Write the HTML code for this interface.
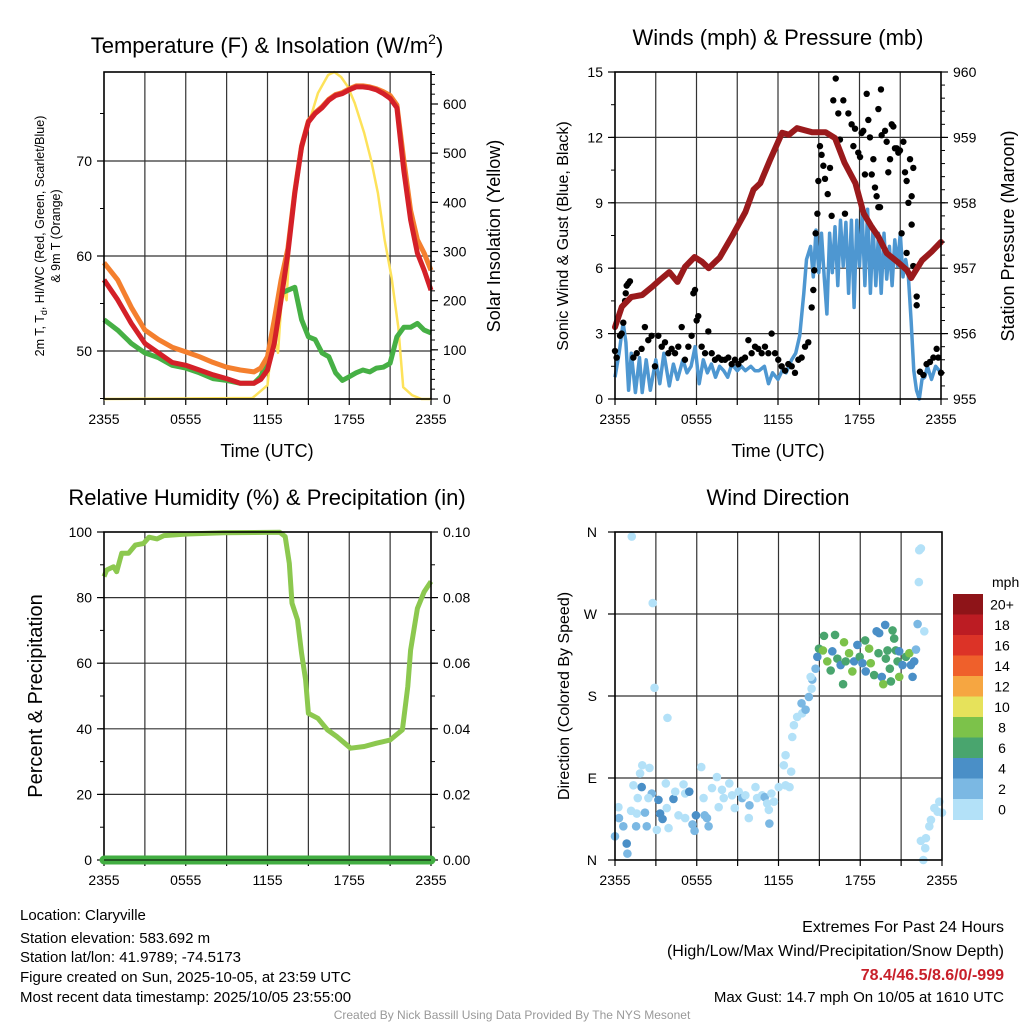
<!DOCTYPE html>
<html><head><meta charset="utf-8"><style>
html,body{margin:0;padding:0;background:#fff;}
svg{display:block;font-family:"Liberation Sans",Arial,sans-serif;}
</style></head><body>
<svg id="chart" width="1024" height="1024" viewBox="0 0 1024 1024" xmlns="http://www.w3.org/2000/svg">
<rect width="1024" height="1024" fill="#fff"/>
<g id="g1"></g>
<g id="g2"></g>
<g id="g3"></g>
<g id="g4"></g>

<text x="267" y="53" font-size="22" text-anchor="middle">Temperature (F) &amp; Insolation (W/m<tspan font-size="14" dy="-9">2</tspan><tspan dy="9">)</tspan></text>
<text x="778" y="45" font-size="22" text-anchor="middle">Winds (mph) &amp; Pressure (mb)</text>
<text x="267" y="505" font-size="22" text-anchor="middle">Relative Humidity (%) &amp; Precipitation (in)</text>
<text x="778" y="505" font-size="22" text-anchor="middle">Wind Direction</text>

<text x="267" y="457" font-size="18" text-anchor="middle">Time (UTC)</text>
<text x="778" y="457" font-size="18" text-anchor="middle">Time (UTC)</text>

<text transform="translate(44,236) rotate(-90)" font-size="12.5" text-anchor="middle">2m T, T<tspan font-size="9" dy="3">d</tspan><tspan dy="-3">, HI/WC (Red, Green, Scarlet/Blue)</tspan></text>
<text transform="translate(60,236) rotate(-90)" font-size="12.5" text-anchor="middle">&amp; 9m T (Orange)</text>
<text transform="translate(500,236) rotate(-90)" font-size="18" text-anchor="middle">Solar Insolation (Yellow)</text>
<text transform="translate(568,236) rotate(-90)" font-size="16" text-anchor="middle">Sonic Wind &amp; Gust (Blue, Black)</text>
<text transform="translate(1014,236) rotate(-90)" font-size="18" text-anchor="middle">Station Pressure (Maroon)</text>
<text transform="translate(42,696) rotate(-90)" font-size="20" text-anchor="middle">Percent &amp; Precipitation</text>
<text transform="translate(569,696) rotate(-90)" font-size="16" text-anchor="middle">Direction (Colored By Speed)</text>

<g font-size="15">
<text x="20" y="920">Location: Claryville</text>
<text x="20" y="943">Station elevation: 583.692 m</text>
<text x="20" y="962">Station lat/lon: 41.9789; -74.5173</text>
<text x="20" y="982">Figure created on Sun, 2025-10-05, at 23:59 UTC</text>
<text x="20" y="1002">Most recent data timestamp: 2025/10/05 23:55:00</text>
</g>
<g font-size="16" text-anchor="end">
<text x="1004" y="932">Extremes For Past 24 Hours</text>
<text x="1004" y="956">(High/Low/Max Wind/Precipitation/Snow Depth)</text>
<text x="1004" y="980" fill="#c8202a" font-weight="bold">78.4/46.5/8.6/0/-999</text>
<text x="1004" y="1002" font-size="15">Max Gust: 14.7 mph On 10/05 at 1610 UTC</text>
</g>
<text x="512" y="1019" font-size="12" fill="#999" text-anchor="middle">Created By Nick Bassill Using Data Provided By The NYS Mesonet</text>
</svg>
<script>
// ---------- data ----------
const timeTickLabels = ["2355","0555","1155","1755","2355"];
const tempTimes = [0,1,2,3,4,5,6,7,8,9,10,11,11.5,12,12.5,13,13.5,14,14.5,15,15.5,16,16.5,17,17.5,18,18.5,19,19.5,20,20.5,21,21.5,22,22.5,23,23.5,24];
const temp2m = [57.5,55.4,52.9,50.8,49.8,48.8,48.5,48,47.5,47.1,46.6,46.6,47,48,50.8,55.4,60.3,66.6,71.5,74.1,75,75.6,76.4,76.9,77.1,77.5,77.8,77.8,77.7,77.5,77.1,76.6,75.6,69,63.8,60.3,58.5,56.4];
const temp9m = [59.3,57.5,54.6,52.2,51.2,50.4,49.9,49.4,48.8,48.3,48,47.8,48.2,49.4,53.3,57.5,60.8,66.8,71.6,74.2,75.1,75.7,76.5,77,77.2,77.6,77.9,77.9,77.8,77.6,77.3,76.9,75.9,70.1,64.8,61.7,60.3,58.5];
const dewpoint = [53.3,52.2,50.8,49.8,49.3,48.5,48.2,47.7,47.1,46.9,46.6,46.6,47.3,49,52.5,56.1,56.4,56.7,53.3,51.5,51.2,49.8,49.4,47.7,46.9,47.3,47.7,48,47.8,48.2,48.3,48.7,51.5,52.5,52.5,52.9,52.2,51.9];
const tempTicks = [50,60,70];
const solarTimes = [0,10.9,12.0,12.4,12.77,13.1,13.4,13.75,14.5,15.1,15.7,16.45,16.9,17.4,17.9,18.4,19.1,19.6,20.1,20.6,21.1,21.6,21.96,22.6,23.3,24];
const solarValues = [0,2,28,134,94,228,201,384,500,567,622,659,665,655,635,602,541,486,419,323,248,146,24,8,0,0];
const solarTicks = [0,100,200,300,400,500,600];

const windTimes = [0,0.3,0.6,0.8,1,1.2,1.5,1.8,2,2.3,2.6,3,3.3,3.6,4,4.3,4.6,5,5.3,5.6,5.9,6.2,6.5,6.8,7.1,7.4,7.7,8,8.3,8.6,9,9.3,9.6,10,10.3,10.6,11,11.3,11.6,12,12.3,12.6,13,13.3,13.6,13.9,14.1,14.4,14.6,14.8,15,15.2,15.4,15.6,15.8,16,16.2,16.4,16.6,16.8,17,17.2,17.4,17.6,17.8,18,18.2,18.4,18.6,18.8,19,19.2,19.4,19.6,19.8,20,20.2,20.4,20.6,20.8,21,21.2,21.4,21.6,21.8,22,22.2,22.4,22.6,22.8,23,23.3,23.6,24];
const windSpeed = [1.0,2.1,3.5,2.6,0.4,2.1,0.3,1.9,0.3,1.8,0.4,1.8,0.7,2.1,0.6,1.6,0.9,1.8,1.2,1.5,2.4,0.7,1.8,1.2,1.6,1.0,1.5,1.3,1.0,1.6,1.3,1.5,1.3,1.5,1.3,1.3,1.5,0.7,1.2,0.9,1.3,1.2,1.8,2.1,2.9,4.85,6.4,7.0,5.6,7.75,5.8,7.6,5.6,3.9,7.6,5.8,7.9,5.2,8.2,6.1,8.1,4.85,8.2,4.2,8.2,6.1,8.5,5.2,8.7,4.85,7.9,5.2,7.6,4.85,7.6,5.5,7.0,5.2,7.3,6.1,7.6,5.6,6.4,5.6,3.6,1.3,0.4,0,0.9,1.0,1.5,0.9,1.5,1.2];
const gustTimes = [0,.12,.37,.49,.61,.74,.79,.86,.98,1.1,1.35,1.6,1.96,2.2,2.45,2.7,2.94,3.19,3.44,3.68,3.93,4.17,4.42,4.66,4.91,5.15,5.4,5.64,5.77,5.89,6.01,6.13,6.38,6.63,6.87,7.12,7.36,7.61,7.85,8.1,8.34,8.59,8.83,9.08,9.33,9.57,9.82,10.06,10.31,10.55,10.8,11.04,11.29,11.53,11.78,12.02,12.27,12.52,12.76,13.01,13.25,13.5,13.74,13.99,14.23,14.48,14.6,14.67,14.77,14.9,14.97,15.09,15.21,15.34,15.46,15.66,15.83,15.95,16.07,16.25,16.44,16.56,16.81,16.93,17.18,17.42,17.55,17.67,17.91,18.04,18.16,18.28,18.4,18.53,18.65,18.77,18.9,19.02,19.14,19.26,19.39,19.51,19.39,19.58,19.63,19.88,20,20.12,20.25,20.37,20.49,20.61,20.74,20.86,20.98,21.1,21.23,21.35,21.47,21.6,21.72,21.84,21.96,21.84,21.47,21.96,22.21,22.21,22.45,22.7,22.94,23.19,23.44,23.68,23.8,24];
const gustSpeed = [2.2,1.9,2.9,3.0,3.5,4.5,4.85,5.2,5.3,5.4,1.9,2.1,2.3,3.3,2.7,2.9,1.5,2.9,2.4,2.6,2.1,2.3,2.1,2.4,3.3,1.8,2.4,2.9,4.85,5.0,3.6,3.8,2.4,2.1,3.1,2.1,1.8,1.9,1.8,1.8,1.9,1.6,1.8,1.6,1.8,1.9,2.7,2.1,2.4,2.3,2.1,2.4,2.1,3.0,2.1,1.8,1.5,1.3,1.6,1.5,1.2,1.8,1.9,2.4,2.6,4.2,5.0,5.9,7.6,8.5,10.0,11.6,11.2,10.7,10.1,9.4,10.6,8.4,13.7,14.7,13.1,11.9,13.7,8.5,13.1,12.6,11.6,12.4,11.3,11.1,12.2,12.3,10.3,14.0,12.8,12.0,10.3,11.0,9.7,9.3,8.8,8.8,13.3,14.2,12.1,12.3,11.8,10.4,11.0,12.6,12.5,11.5,11.5,11.3,11.4,7.6,11.8,10.4,10.0,9.0,11.0,9.3,10.6,8.0,6.7,6.1,4.7,4.3,1.25,1.1,1.6,1.7,1.9,2.3,1.9,1.2];
const presTimes = [0,0.5,1.2,2,2.7,3.3,4,4.6,5.15,5.85,6.4,6.9,7.7,8.6,9.6,10.2,10.7,11.4,12.3,12.8,13.4,14.5,15.5,16.2,16.9,17.7,18.3,18.9,19.4,20,20.9,21.5,21.8,22.6,23.3,24];
const presValues = [956.10,956.41,956.56,956.59,956.71,956.82,956.94,956.79,957.02,957.17,957.10,957.00,957.16,957.48,957.86,958.20,958.30,958.65,959.07,959.04,959.14,959.08,959.08,958.99,958.61,958.30,957.84,957.63,957.48,957.23,957.08,956.97,956.85,957.12,957.25,957.40];
const windTicks = [0,3,6,9,12,15];
const presTicks = [955,956,957,958,959,960];

const rhTimes = [0,0.2,0.7,0.93,1.3,1.8,2.3,2.9,3.3,3.9,4.4,6.1,8.8,12.9,13.3,13.6,13.8,14.2,14.5,14.8,15,15.7,16.4,17.1,18.1,19.1,20,21,21.9,22.3,22.5,23,23.5,24];
const rhValues = [86.4,88.4,89.4,87.9,93.5,93.5,96,96.5,98.4,97.9,98.9,99.4,99.8,99.9,98.6,90.5,78.3,73.2,63,54.9,44.7,43.2,39.7,37.6,34.1,34.6,35.6,36.6,39.7,52.9,64,76.7,81.8,84.9];
const precipTimes = [0,24];
const precipValues = [0,0];
const rhTicks = [0,20,40,60,80,100];
const precipTicks = ["0.00","0.02","0.04","0.06","0.08","0.10"];

const dirTimes = [1.23,2.77,2.9,3.85,0.25,0.29,0,0.61,0.86,0.91,1.35,1.96,1.84,2.0,2.53,1.67,1.18,1.6,2.2,1.55,2.33,2.7,2.45,3.19,3.31,3.49,3.07,3.73,3.8,4.29,4.42,3.93,4.66,5.03,5.15,5.45,5.15,5.69,5.84,5.94,6.33,6.5,6.58,6.75,6.87,7.12,7.48,7.61,7.85,7.98,8.39,8.59,8.79,9.08,9.33,9.57,9.87,9.82,10.31,10.43,10.8,10.99,11.17,11.29,11.33,11.48,11.66,12.02,12.52,12.81,12.39,12.52,12.93,13.01,13.13,13.37,13.74,13.99,13.69,14.23,14.43,14.48,14.36,14.72,14.85,14.97,15.26,15.34,15.58,15.83,15.95,16.15,16.32,16.56,16.74,16.81,16.93,17.18,17.42,17.55,17.79,17.96,18.16,18.36,18.4,18.65,18.77,19.02,19.2,19.39,19.34,19.58,19.69,19.83,19.88,20,20.17,20.25,20.37,20.49,20.61,20.74,20.86,20.86,21.1,21.35,21.6,21.72,21.84,21.96,22.09,22.21,22.7,22.3,22.45,22.33,22.45,22.82,22.77,22.63,23.07,23.19,23.44,23.68,23.8,24];
const dirDegrees = [355,282,189,156,58,46,26,37,18,7,82,80,95,104,101,68,54,51,52,37,37,73,68,66,51,45,33,84,57,67,75,35,49,83,73,75,46,39,32,49,102,68,49,46,37,79,91,58,77,68,84,71,57,75,68,71,60,46,80,68,71,69,62,55,40,73,64,80,82,80,104,115,97,135,148,157,161,165,172,179,188,198,201,210,223,232,230,246,218,208,229,247,221,214,193,239,218,227,207,218,236,223,216,241,207,232,216,203,251,249,227,201,193,258,221,230,210,196,252,243,230,218,229,201,214,223,227,214,201,218,231,259,251,305,342,340,21,24,13,0,37,44,57,53,64,52];
const dirSpeeds = [1,1,1,1,1,3,3,3,5,3,1,5,1,1,1,1,1,1,3,3,3,3,1,5,5,5,1,1,1,5,1,1,1,1,1,5,1,3,3,5,1,1,3,3,3,1,1,1,1,1,1,1,1,1,3,1,3,1,1,1,1,3,1,1,3,1,1,1,1,1,1,1,1,1,1,1,1,3,3,3,1,3,1,3,5,7,9,7,9,7,5,7,7,5,7,9,7,9,9,5,5,7,5,7,5,9,9,7,5,5,7,5,9,5,7,7,7,7,7,7,7,7,5,9,5,7,9,5,5,5,3,3,1,1,1,1,1,1,1,1,1,1,1,1,1,1];
const dirTickLabels = ["N","E","S","W","N"];
const speedBinLabels = ["20+","18","16","14","12","10","8","6","4","2","0"];
const speedBinColors = ["#8e1418","#bc1c23","#dc3327","#ef602b","#f6a641","#e6e25b","#7cc24a","#49a56e","#4a8fc7","#7bb8e3","#b3e1f8"];

// ---------- helpers ----------
const NS = "http://www.w3.org/2000/svg";
function mk(tag, attrs, parent){const e=document.createElementNS(NS,tag);for(const k in attrs)e.setAttribute(k,attrs[k]);parent.appendChild(e);return e;}
function makePanel(x0,x1,y0,y1){return {x0,x1,y0,y1,xs:t=>x0+(t/24)*(x1-x0)};}
function lin(d0,d1,p0,p1){return v=>p0+(v-d0)*(p1-p0)/(d1-d0);}
function linePath(xs,ys,times,vals){return times.map((t,i)=>(i?"L":"M")+xs(t).toFixed(1)+","+ys(vals[i]).toFixed(1)).join("");}

function frame(g,p,opts){
  // grid verticals every 3h
  for(let h=3;h<24;h+=3){
    const l=mk("line",{x1:p.xs(h),x2:p.xs(h),y1:p.y0,y2:p.y1,stroke:"#333","stroke-width":1.2},g);
    
    
  }
  opts.hgrid.forEach(y=>{
    const l=mk("line",{x1:p.x0,x2:p.x1,y1:y,y2:y,stroke:"#333","stroke-width":1.2},g);
    
    
  });
  // x ticks and labels
  for(let h=0;h<=24;h+=3){
    const l=mk("line",{x1:p.xs(h),x2:p.xs(h),y1:p.y1,y2:p.y1+6,stroke:"#000","stroke-width":1.2},g);
    
    
  }
  timeTickLabels.forEach((s,i)=>{
    const t=mk("text",{x:p.xs(i*6),y:p.y1+25,"font-size":14,"text-anchor":"middle"},g);
    t.textContent=s;
    
    
  });
}
function border(g,p){
  const r=mk("rect",{x:p.x0,y:p.y0,width:p.x1-p.x0,height:p.y1-p.y0,fill:"none",stroke:"#000","stroke-width":1.6},g);
  
  
}
function yTicks(g,p,side,scale,ticks,labels,minorStep,lo,hi,nameLbl){
  const x=side==="l"?p.x0:p.x1, dir=side==="l"?-1:1;
  for(let v=lo;v<=hi+1e-9;v+=minorStep){
    const y=scale(v); if(y<p.y0-0.5||y>p.y1+0.5) continue;
    const l=mk("line",{x1:x,x2:x+dir*4,y1:y,y2:y,stroke:"#000","stroke-width":1},g);
    
    
  }
  ticks.forEach((v,i)=>{
    const y=scale(v);
    const l=mk("line",{x1:x,x2:x+dir*7,y1:y,y2:y,stroke:"#000","stroke-width":1.2},g);
    
    
    const t=mk("text",{x:x+dir*12,y:y+5,"font-size":14,"text-anchor":side==="l"?"end":"start"},g);
    t.textContent=labels[i];
    
    
  });
}

// ---------- panel 1 ----------
(function(){
  const g=document.getElementById("g1");
  const p=makePanel(104,431,72,399);
  const yT=lin(50,70,351,161), yS=lin(0,600,399,104);
  frame(g,p,{hgrid:tempTicks.map(yT)});
  let e;
  e=mk("path",{d:linePath(p.xs,yS,solarTimes,solarValues),fill:"none",stroke:"#fde25a","stroke-width":2.5,"stroke-linejoin":"round"},g);
  
  
  e=mk("path",{d:linePath(p.xs,yT,tempTimes,dewpoint),fill:"none",stroke:"#46b045","stroke-width":5,"stroke-linejoin":"round"},g);
  
  
  e=mk("path",{d:linePath(p.xs,yT,tempTimes,temp9m),fill:"none",stroke:"#f47f2e","stroke-width":5,"stroke-linejoin":"round"},g);
  
  
  e=mk("path",{d:linePath(p.xs,yT,tempTimes,temp2m),fill:"none",stroke:"#d42028","stroke-width":5,"stroke-linejoin":"round"},g);
  
  
  border(g,p);
  yTicks(g,p,"l",yT,tempTicks,tempTicks.map(String),5,45,75,"temperature-tick-label");
  yTicks(g,p,"r",yS,solarTicks,solarTicks.map(String),20,0,660,"solar-tick-label");
})();

// ---------- panel 2 ----------
(function(){
  const g=document.getElementById("g2");
  const p=makePanel(615,941,72,399);
  const yW=lin(0,15,399,72), yP=lin(955,960,399,72);
  frame(g,p,{hgrid:[3,6,9,12].map(yW)});
  let e=mk("path",{d:linePath(p.xs,yW,windTimes,windSpeed),fill:"none",stroke:"#4e97d1","stroke-width":3.5,"stroke-linejoin":"round"},g);
  
  
  gustTimes.forEach((t,i)=>{
    const c=mk("circle",{cx:p.xs(t),cy:yW(gustSpeed[i]),r:3.2,fill:"#000"},g);
    
    
  });
  e=mk("path",{d:linePath(p.xs,yP,presTimes,presValues),fill:"none",stroke:"#9a1a1c","stroke-width":6,"stroke-linejoin":"round","stroke-linecap":"round"},g);
  
  
  border(g,p);
  yTicks(g,p,"l",yW,windTicks,windTicks.map(String),1.5,0,15,"wind-tick-label");
  yTicks(g,p,"r",yP,presTicks,presTicks.map(String),0.2,955,960,"pressure-tick-label");
})();

// ---------- panel 3 ----------
(function(){
  const g=document.getElementById("g3");
  const p=makePanel(104,431,532,860);
  const yR=lin(0,100,860,532);
  frame(g,p,{hgrid:[20,40,60,80].map(yR)});
  let e=mk("path",{d:linePath(p.xs,yR,rhTimes,rhValues),fill:"none",stroke:"#8cc84f","stroke-width":5,"stroke-linejoin":"round"},g);
  
  
  border(g,p);
  yTicks(g,p,"l",yR,rhTicks,rhTicks.map(String),10,0,100,"humidity-tick-label");
  yTicks(g,p,"r",yR,rhTicks,precipTicks,10,0,100,"precip-tick-label");
  const yPr=lin(0,0.1,860,532);
  e=mk("path",{d:linePath(p.xs,yPr,precipTimes,precipValues),fill:"none",stroke:"#42ae42","stroke-width":9,"stroke-linecap":"round"},g);
  
  
  e=mk("line",{x1:p.x0,x2:p.x1,y1:860,y2:860,stroke:"#000","stroke-width":1},g);
  
  
})();

// ---------- panel 4 ----------
(function(){
  const g=document.getElementById("g4");
  const p=makePanel(615,942,532,860);
  const yD=lin(0,360,860,532);
  frame(g,p,{hgrid:[90,180,270].map(yD)});
  function binColor(s){let i=Math.floor(s/2);if(i>10)i=10;return speedBinColors[10-i];}
  dirTimes.forEach((t,i)=>{
    const c=mk("circle",{cx:p.xs(t),cy:yD(dirDegrees[i]),r:4.3,fill:binColor(dirSpeeds[i])},g);
    
    
  });
  border(g,p);
  dirTickLabels.forEach((s,i)=>{
    const y=yD(i*90);
    const l=mk("line",{x1:p.x0,x2:p.x0-7,y1:y,y2:y,stroke:"#000","stroke-width":1.2},g);
    
    
    const t=mk("text",{x:p.x0-18,y:y+5,"font-size":14,"text-anchor":"end"},g);
    t.textContent=s;
    
    
  });
  // colorbar legend
  const lg=mk("g",{},g);
  
  
  const mph=mk("text",{x:992,y:587,"font-size":14},lg);
  mph.textContent="mph";
  
  
  const top=594,h=20.5;
  speedBinLabels.forEach((s,i)=>{
    const r=mk("rect",{x:953,y:top+i*h,width:30,height:h+0.5,fill:speedBinColors[i]},lg);
    
    
    const t=mk("text",{x:1002,y:top+i*h+h/2+5,"font-size":14,"text-anchor":"middle"},lg);
    t.textContent=s;
    
    
  });
})();
</script>
</body></html>
